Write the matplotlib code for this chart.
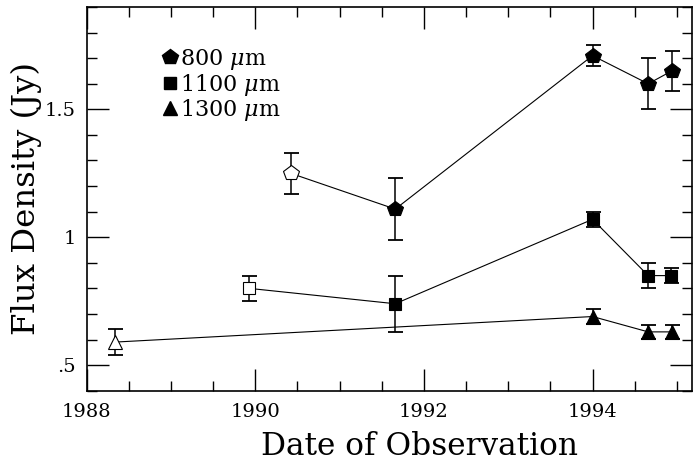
import matplotlib
matplotlib.use("Agg")
import matplotlib.pyplot as plt
from matplotlib.ticker import MultipleLocator, FixedLocator, FixedFormatter

plt.rcParams['font.family'] = 'DejaVu Serif'
plt.rcParams['mathtext.fontset'] = 'dejavuserif'

# 800 micron
x800 = [1990.42, 1991.66, 1994.00, 1994.66, 1994.94]
y800 = [1.25, 1.11, 1.71, 1.60, 1.65]
e800 = [0.08, 0.12, 0.04, 0.10, 0.08]
open800 = [True, False, False, False, False]

# 1100 micron
x1100 = [1989.93, 1991.66, 1994.00, 1994.66, 1994.93]
y1100 = [0.80, 0.74, 1.07, 0.85, 0.85]
e1100 = [0.05, 0.11, 0.03, 0.05, 0.03]
open1100 = [True, False, False, False, False]

# 1300 micron
x1300 = [1988.33, 1994.00, 1994.66, 1994.94]
y1300 = [0.59, 0.69, 0.63, 0.63]
e1300 = [0.05, 0.03, 0.028, 0.028]
open1300 = [True, False, False, False]

labels = ["800 $\\mu$m", "1100 $\\mu$m", "1300 $\\mu$m"]
markers = ['p', 's', '^']
msizes = [11.5, 9, 10]

yticks = [0.5, 1.0, 1.5]
yticklabels = [".5", "1", "1.5"]
xticks = [1988, 1990, 1992, 1994]
xticklabels = ["1988", "1990", "1992", "1994"]

fig = plt.figure(figsize=(6.93, 4.62), dpi=100)
ax = fig.add_axes([0.1251, 0.1543, 0.8735, 0.8305])

series = [(x800, y800, e800, open800), (x1100, y1100, e1100, open1100),
          (x1300, y1300, e1300, open1300)]
for (xs, ys, es, opens), mk, ms in zip(series, markers, msizes):
    ax.plot(xs, ys, color='black', lw=0.8, zorder=2)
    ax.errorbar(xs, ys, yerr=es, fmt='none', ecolor='black', elinewidth=1.1,
                capsize=5.4, capthick=1.3, zorder=3)
    for xv, yv, op in zip(xs, ys, opens):
        ax.plot([xv], [yv], marker=mk, ms=ms, color='black',
                mfc='white' if op else 'black', mec='black',
                mew=0.8, zorder=4, linestyle='none')

ax.set_xlim(1988, 1995.18)
ax.set_ylim(0.4, 1.9)

ax.xaxis.set_major_locator(FixedLocator(xticks))
ax.xaxis.set_major_formatter(FixedFormatter(xticklabels))
ax.xaxis.set_minor_locator(MultipleLocator(0.5))
ax.yaxis.set_major_locator(FixedLocator(yticks))
ax.yaxis.set_major_formatter(FixedFormatter(yticklabels))
ax.yaxis.set_minor_locator(MultipleLocator(0.1))

ax.tick_params(which='both', direction='in', top=True, right=True, width=1.0)
ax.tick_params(which='major', length=15.5, labelsize=14)
ax.tick_params(which='minor', length=7.5)
ax.tick_params(axis='x', which='major', pad=9)
ax.tick_params(axis='y', which='major', pad=8)
for s in ax.spines.values():
    s.set_linewidth(1.2)

ax.set_xlabel("Date of Observation", fontsize=22.5, labelpad=7, x=0.549)
ax.set_ylabel("Flux Density (Jy)", fontsize=23.3, labelpad=2)

# legend (manual placement, axes coordinates)
leg_marker_x = 0.1376
leg_text_x = 0.154
leg_row_y = [0.869, 0.802, 0.736]
for lab, mk, ms, ry in zip(labels, markers, msizes, leg_row_y):
    ax.plot([leg_marker_x], [ry], marker=mk, ms=ms, color='black',
            linestyle='none', transform=ax.transAxes, clip_on=False)
    ax.text(leg_text_x, ry - 0.020, lab, transform=ax.transAxes,
            fontsize=16, ha='left', va='baseline')

fig.savefig("out.png", dpi=100)
